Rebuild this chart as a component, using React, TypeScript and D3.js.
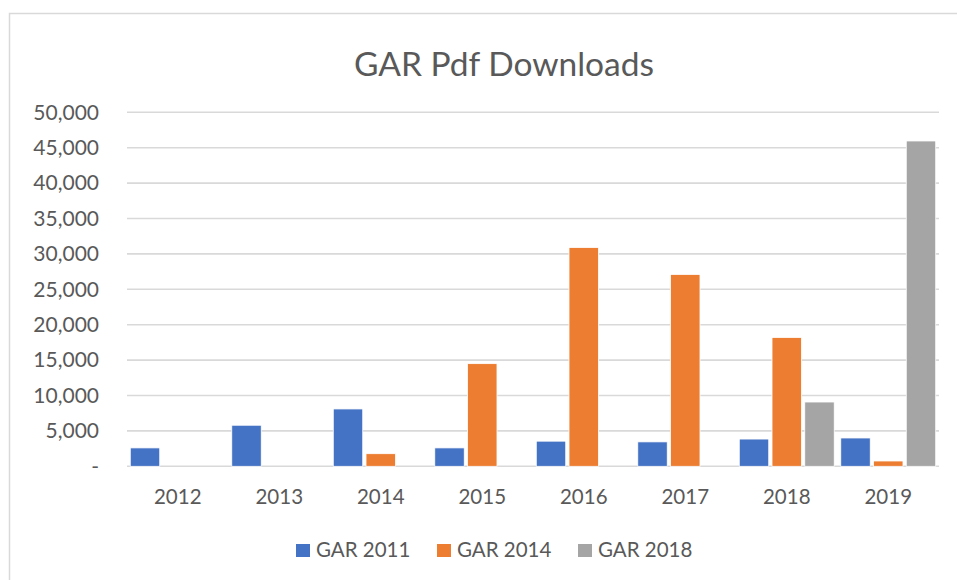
import React from "react";
import * as d3 from "d3";

const years = ["2012", "2013", "2014", "2015", "2016", "2017", "2018", "2019"];
const seriesNames = ["GAR 2011", "GAR 2014", "GAR 2018"];
const gar2011 = [2600, 5800, 8100, 2600, 3550, 3450, 3850, 4000];
const gar2014 = [0, 0, 1780, 14500, 30900, 27100, 18200, 750];
const gar2018 = [0, 0, 0, 0, 0, 0, 9080, 45950];
const seriesColors = ["#4472C4", "#ED7D31", "#A5A5A5"];
const yTicks = [0, 5000, 10000, 15000, 20000, 25000, 30000, 35000, 40000, 45000, 50000];
const title = "GAR Pdf Downloads";

const W = 957;
const H = 580;
const FONT = "Lato, 'Open Sans', sans-serif";
const TEXT = "#595959";

export default function App() {
  const seriesValues = [gar2011, gar2014, gar2018];
  const x0 = d3.scaleBand<string>().domain(years).range([127, 939]).padding(0);
  const x1 = d3
    .scaleBand<string>()
    .domain(seriesNames)
    .range([0, x0.bandwidth()])
    .paddingInner(0.1)
    .paddingOuter(0.1);
  const y = d3.scaleLinear().domain([0, 50000]).range([466.3, 112.3]);
  const fmt = (v: number) => (v === 0 ? "-" : d3.format(",")(v));

  const legendX = [296, 437, 578];

  return (
    <svg
      width={W}
      height={H}
      style={{ position: "absolute", left: 0, top: 0, background: "#fff" }}
      fontFamily={FONT}
    >
      <rect x={0} y={0} width={W} height={H} fill="#fff" />
      <rect x={9.5} y={13.5} width={W + 20} height={H + 20} fill="#fff" stroke="#d9d9d9" strokeWidth={1.5} />
      <text x={504} y={76} textAnchor="middle" fontSize={33.5} fill={TEXT}>
        {title}
      </text>
      {yTicks.map((t) => (
        <g key={t}>
          <line x1={127} x2={939} y1={y(t)} y2={y(t)} stroke="#d9d9d9" strokeWidth={1.6} />
          <text x={99} y={y(t)} dy="0.35em" textAnchor="end" fontSize={21} fill={TEXT}>
            {fmt(t)}
          </text>
        </g>
      ))}
      {years.map((yr, i) => (
        <g key={yr} transform={`translate(${x0(yr)},0)`}>
          {seriesNames.map((s, j) => {
            const v = seriesValues[j][i];
            if (!v) return null;
            return (
              <rect
                key={s}
                x={x1(s)}
                y={y(v)}
                width={x1.bandwidth()}
                height={y(0) - y(v)}
                fill={seriesColors[j]}
                stroke="#fff"
                strokeWidth={0.8}
              />
            );
          })}
          <text x={x0.bandwidth() / 2} y={504} textAnchor="middle" fontSize={20.5} fill={TEXT}>
            {yr}
          </text>
        </g>
      ))}
      {seriesNames.map((s, j) => (
        <g key={s}>
          <rect x={legendX[j]} y={544} width={14} height={13} fill={seriesColors[j]} />
          <text x={legendX[j] + 20} y={557} fontSize={20.5} fill={TEXT}>
            {s}
          </text>
        </g>
      ))}
    </svg>
  );
}
